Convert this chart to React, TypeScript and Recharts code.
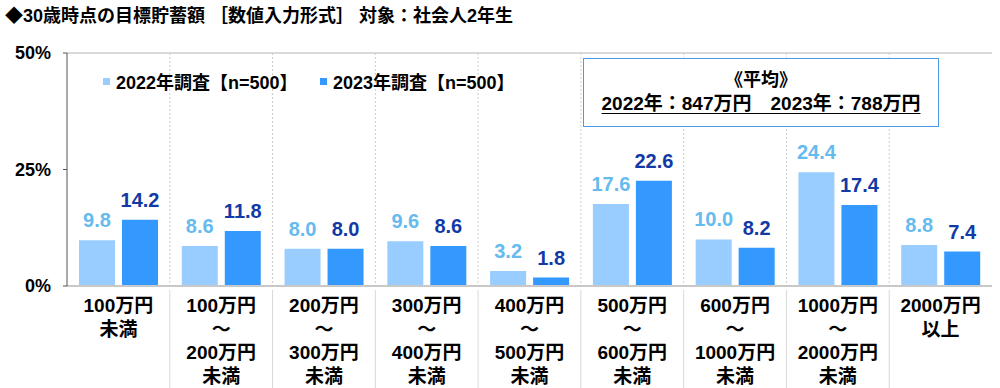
import React from 'react';
import { BarChart, Bar, XAxis, YAxis, CartesianGrid, LabelList, ReferenceLine } from 'recharts';

const categories: string[][] = [
  ['100万円', '未満'],
  ['100万円', '～', '200万円', '未満'],
  ['200万円', '～', '300万円', '未満'],
  ['300万円', '～', '400万円', '未満'],
  ['400万円', '～', '500万円', '未満'],
  ['500万円', '～', '600万円', '未満'],
  ['600万円', '～', '1000万円', '未満'],
  ['1000万円', '～', '2000万円', '未満'],
  ['2000万円', '以上'],
];
const values2022 = [9.8, 8.6, 8.0, 9.6, 3.2, 17.6, 10.0, 24.4, 8.8];
const values2023 = [14.2, 11.8, 8.0, 8.6, 1.8, 22.6, 8.2, 17.4, 7.4];
const yTicks = [0, 25, 50];
const seriesNames = ['2022年調査【n=500】', '2023年調査【n=500】'];
const titleText = '◆30歳時点の目標貯蓄額 ［数値入力形式］ 対象：社会人2年生';
const avgTitle = '《平均》';
const avgText = '2022年：847万円　2023年：788万円';

const FONT = '"Liberation Sans", "Noto Sans CJK JP", sans-serif';
const W = 1000;
const H = 388;
const M = { top: 53, right: 8, bottom: 2, left: 7 };
const Y_AXIS_W = 60;
const X_AXIS_H = 100;
const PLOT_W = W - M.left - Y_AXIS_W - M.right;
const BAND = PLOT_W / categories.length;

const COLOR_2022 = '#99CCFF';
const COLOR_2023 = '#3399FF';
const LABEL_2022 = '#66BBEE';
const LABEL_2023 = '#1239A6';

const data = categories.map((c, i) => ({
  key: c.join(''),
  lines: c,
  v2022: values2022[i],
  v2023: values2023[i],
}));

const CategoryTick = (props: any) => {
  const { x, y, payload, index } = props;
  const idx = payload.index ?? index;
  const lines: string[] = categories[idx] || [];
  const last = idx === categories.length - 1;
  return (
    <g>
      {!last && (
        <line x1={x + BAND / 2} x2={x + BAND / 2} y1={y + 4} y2={H} stroke="#d9d9d9" strokeWidth={1} />
      )}
      <text x={x} y={y} textAnchor="middle" fontFamily={FONT} fontWeight="bold" fontSize={19} fill="#000">
        {lines.map((l, i) => (
          <tspan key={i} x={x} y={y + 26 + i * 23.7}>
            {l}
          </tspan>
        ))}
      </text>
    </g>
  );
};

const gridGen = ({ offset }: any) => {
  const out: number[] = [];
  for (let i = 1; i < categories.length; i++) out.push(offset.left + (offset.width / categories.length) * i);
  return out;
};

export default function App() {
  return (
    <div style={{ position: 'absolute', left: 0, top: 0, width: W, height: H, background: '#fff', fontFamily: FONT }}>
      <BarChart
        width={W}
        height={H}
        data={data}
        margin={M}
        barCategoryGap={12}
        barGap={7}
      >
        <CartesianGrid
          horizontal={false}
          vertical
          verticalCoordinatesGenerator={gridGen}
          stroke="#cccccc"
          strokeDasharray="2 2"
        />
        <ReferenceLine y={50} stroke="#cccccc" strokeWidth={1.5} ifOverflow="visible" />
        <XAxis
          dataKey="key"
          height={X_AXIS_H}
          interval={0}
          tickLine={false}
          tickSize={0}
          tickMargin={0}
          axisLine={{ stroke: '#c8c8c8', strokeWidth: 2 }}
          tick={<CategoryTick />}
        />
        <YAxis
          width={Y_AXIS_W}
          domain={[0, 50]}
          ticks={yTicks}
          interval={0}
          tickSize={4}
          tickMargin={12}
          tickLine={{ stroke: '#555' }}
          axisLine={{ stroke: '#555' }}
          tickFormatter={(v: number) => `${v}%`}
          tick={{ fontFamily: FONT, fontWeight: 'bold', fontSize: 18, fill: '#000' }}
        />
        <YAxis
          yAxisId="r"
          orientation="right"
          width={0}
          tick={false}
          tickLine={false}
          axisLine={{ stroke: '#cccccc', strokeWidth: 1.5 }}
        />
        <Bar dataKey="v2022" fill={COLOR_2022} isAnimationActive={false}>
          <LabelList
            dataKey="v2022"
            position="top"
            offset={13}
            formatter={(v: any) => Number(v).toFixed(1)}
            style={{ fontFamily: FONT, fontWeight: 'bold', fontSize: 20, fill: LABEL_2022 }}
          />
        </Bar>
        <Bar dataKey="v2023" fill={COLOR_2023} isAnimationActive={false}>
          <LabelList
            dataKey="v2023"
            position="top"
            offset={13}
            formatter={(v: any) => Number(v).toFixed(1)}
            style={{ fontFamily: FONT, fontWeight: 'bold', fontSize: 20, fill: LABEL_2023 }}
          />
        </Bar>
      </BarChart>

      <div style={{ position: 'absolute', left: 5, top: 3, fontSize: 18, fontWeight: 'bold', color: '#000', whiteSpace: 'pre', lineHeight: '26px' }}>
        {titleText}
      </div>

      {[0, 1].map((i) => (
        <div
          key={i}
          style={{ position: 'absolute', left: i === 0 ? 103 : 320, top: 69, height: 24, display: 'flex', alignItems: 'center', whiteSpace: 'pre' }}
        >
          <span style={{ display: 'inline-block', width: 7, height: 7, background: i === 0 ? COLOR_2022 : COLOR_2023, marginRight: 6 }} />
          <span style={{ fontSize: 18, fontWeight: 'bold', color: '#000' }}>{seriesNames[i]}</span>
        </div>
      ))}

      <div
        style={{
          position: 'absolute',
          left: 583,
          top: 58,
          width: 356,
          height: 69,
          boxSizing: 'border-box',
          border: '1.5px solid #4A9BE8',
          background: '#fff',
          textAlign: 'center',
          fontWeight: 'bold',
          fontSize: 19,
          color: '#000',
        }}
      >
        <div style={{ position: 'absolute', left: 0, right: 0, top: 8, lineHeight: '26px', fontSize: 18 }}>{avgTitle}</div>
        <div style={{ position: 'absolute', left: 0, right: 0, top: 32, lineHeight: '26px', whiteSpace: 'pre' }}>
          <span style={{ textDecoration: 'underline', textUnderlineOffset: 3 }}>{avgText}</span>
        </div>
      </div>
    </div>
  );
}
